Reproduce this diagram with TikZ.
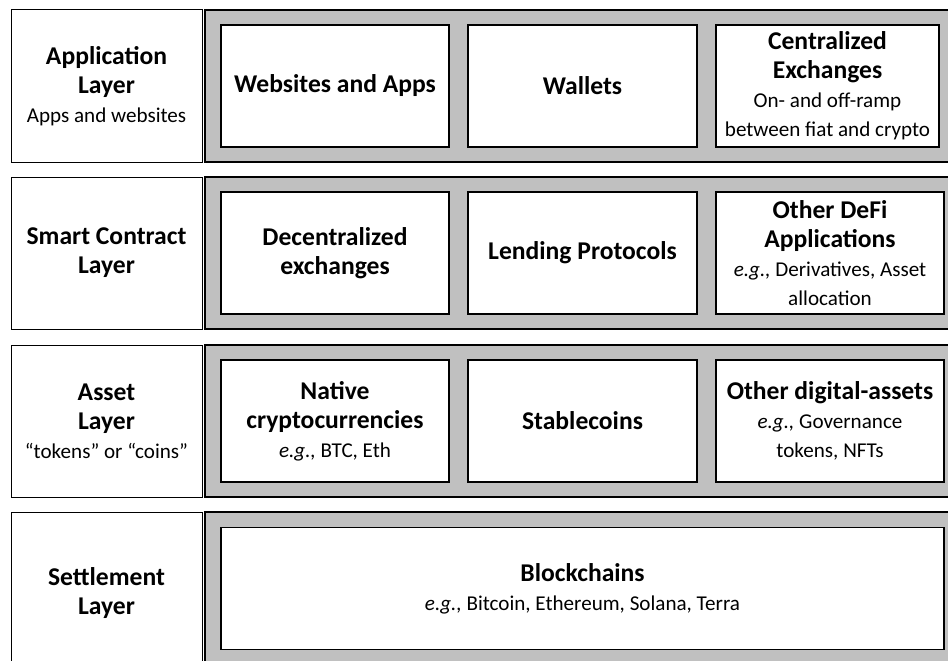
\documentclass[tikz,border=0pt]{standalone}
\usepackage{fontspec}
\setmainfont{Carlito}

\definecolor{bandgray}{RGB}{192,192,192}

\newcommand{\ttl}[1]{{\fontsize{25.6}{29}\selectfont\bfseries #1}}

\tikzset{
  band/.style={draw, fill=bandgray, line width=1.3pt},
  layerbox/.style={draw, fill=white, line width=1pt, align=center,
    minimum width=191pt, minimum height=152pt, inner sep=0pt},
  itembox/.style={draw, fill=white, line width=1.6pt, align=center,
    minimum height=122pt, inner sep=0pt}
}

\begin{document}
\begin{tikzpicture}[x=1pt, y=-1pt,
    every node/.style={font=\fontsize{21.1}{29}\selectfont}]
  \clip (0,0) rectangle (948,661);
  \fill[white] (0,0) rectangle (948,661);

  % grey bands
  \foreach \t in {10,177,345,512}
    \draw[band] (205,\t) rectangle (970,\t+152);

  % left column
  \node[layerbox] (applayer) at (106.5,86) {\ttl{Application}\\\ttl{Layer}\\Apps and websites};
  \node[layerbox] (sclayer) at (106.5,253) {\ttl{Smart Contract}\\\ttl{Layer}};
  \node[layerbox] (assetlayer) at (106.5,421) {\ttl{Asset}\\\ttl{Layer}\\“tokens” or “coins”};
  \node[layerbox, minimum height=180pt] (setlayer) at (106.5,602) {};
  \node[align=center] (setlabel) at (106.5,593) {\ttl{Settlement}\\\ttl{Layer}};

  % application layer
  \node[itembox, minimum width=228pt] (webapps) at (335,86) {\ttl{Websites and Apps}};
  \node[itembox, minimum width=229pt] (wallets) at (582.5,86) {\ttl{Wallets}};
  \node[itembox, minimum width=223pt] (cex) at (827.5,86)
    {\ttl{Centralized}\\\ttl{Exchanges}\\On- and off-ramp\\between fiat and crypto};

  % smart contract layer
  \node[itembox, minimum width=228pt] (dex) at (335,253) {\ttl{Decentralized}\\\ttl{exchanges}};
  \node[itembox, minimum width=229pt] (lending) at (582.5,253) {\ttl{Lending Protocols}};
  \node[itembox, minimum width=228pt] (defi) at (830,253)
    {\ttl{Other DeFi}\\\ttl{Applications}\\\textit{e.g.,} Derivatives, Asset\\allocation};

  % asset layer
  \node[itembox, minimum width=228pt] (native) at (335,421)
    {\ttl{Native}\\\ttl{cryptocurrencies}\\\textit{e.g.,} BTC, Eth};
  \node[itembox, minimum width=229pt] (stable) at (582.5,421) {\ttl{Stablecoins}};
  \node[itembox, minimum width=228pt] (otherassets) at (830,421)
    {\ttl{Other digital-assets}\\\textit{e.g.,} Governance\\tokens, NFTs};

  % settlement layer
  \node[itembox, minimum width=723pt] (chains) at (582.5,588.5)
    {\ttl{Blockchains}\\\textit{e.g.,} Bitcoin, Ethereum, Solana, Terra};
\end{tikzpicture}
\end{document}
